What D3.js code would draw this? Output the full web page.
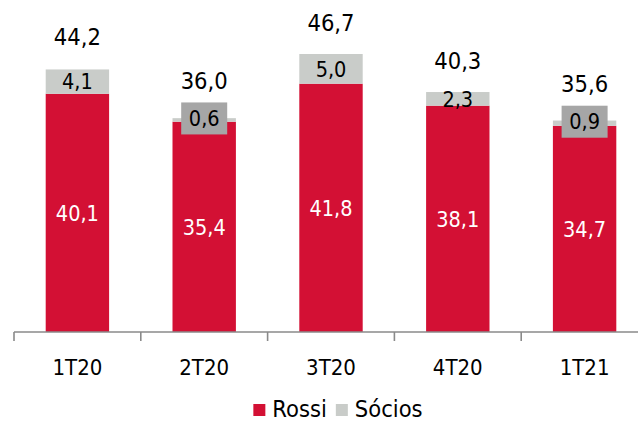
<!DOCTYPE html>
<html><head><meta charset="utf-8">
<script src="https://cdn.jsdelivr.net/npm/d3@7"></script>
<style>
html,body{margin:0;padding:0;background:#fff;}
text{font-family:Tahoma,"DejaVu Sans Condensed","DejaVu Sans",sans-serif;}
</style></head>
<body>
<svg id="chart" width="638" height="422"></svg>
<script>
const categories = ["1T20","2T20","3T20","4T20","1T21"];
const rossi = [40.1, 35.4, 41.8, 38.1, 34.7];
const socios = [4.1, 0.6, 5.0, 2.3, 0.9];
const totals = [44.2, 36.0, 46.7, 40.3, 35.6];
const seriesNames = ["Rossi","Sócios"];
const colors = {Rossi:"#D31034", "Sócios":"#C9CCC9"};

const fmt = v => v.toFixed(1).replace(".", ",");
const svg = d3.select("#chart");
const x = d3.scaleBand().domain(categories).range([14, 648]).paddingInner(0.5).paddingOuter(0.25);
const y = d3.scaleLinear().domain([0, 50]).range([332, 35]);

const data = categories.map((c,i)=>({c, r:rossi[i], s:socios[i], t:totals[i]}));

// Rossi bars
svg.append("g").selectAll("rect").data(data).join("rect")
  .attr("x", d=>x(d.c)).attr("width", x.bandwidth())
  .attr("y", d=>y(d.r)).attr("height", d=>y(0)-y(d.r))
  .attr("fill", colors.Rossi);
// Sócios bars
svg.append("g").selectAll("rect").data(data).join("rect")
  .attr("x", d=>x(d.c)).attr("width", x.bandwidth())
  .attr("y", d=>y(d.r+d.s)).attr("height", d=>y(d.r)-y(d.r+d.s))
  .attr("fill", colors["Sócios"]);

// axis
const axisG = svg.append("g").attr("transform","translate(0,332)");
axisG.append("line").attr("x1",14).attr("x2",648).attr("y1",0).attr("y2",0)
  .attr("stroke","#8a8a8a").attr("stroke-width",1.6);
const step = x.step();
const bounds = d3.range(categories.length+1).map(i=>14+i*step);
axisG.selectAll("line.tick").data(bounds).join("line").attr("class","tick")
  .attr("x1",d=>d).attr("x2",d=>d).attr("y1",0).attr("y2",9)
  .attr("stroke","#8a8a8a").attr("stroke-width",1.6);
axisG.selectAll("text").data(categories).join("text")
  .attr("x", d=>x(d)+x.bandwidth()/2).attr("y", 43)
  .attr("text-anchor","middle").attr("font-size",22).attr("fill","#000")
  .text(d=>d);

// Rossi labels (white)
svg.append("g").selectAll("text").data(data).join("text")
  .attr("x", d=>x(d.c)+x.bandwidth()/2)
  .attr("y", d=>(y(0)+y(d.r))/2).attr("dy","0.36em")
  .attr("text-anchor","middle").attr("font-size",21.5).attr("fill","#fff")
  .text(d=>fmt(d.r));

// Sócios labels
const sl = svg.append("g").selectAll("g").data(data).join("g")
  .attr("transform", d=>`translate(${x(d.c)+x.bandwidth()/2},${(y(d.r)+y(d.r+d.s))/2 - (d.s<1?1.5:0)})`);
sl.filter(d=>d.s<1).append("rect")
  .attr("x",-23).attr("y",-16).attr("width",46).attr("height",32).attr("fill","#A6A6A6");
sl.append("text").attr("text-anchor","middle").attr("dy","0.36em")
  .attr("font-size",21.5).attr("fill","#000").text(d=>fmt(d.s));

// Total labels
svg.append("g").selectAll("text").data(data).join("text")
  .attr("x", d=>x(d.c)+x.bandwidth()/2)
  .attr("y", d=>y(d.t) - (d.s<1?29:24))
  .attr("text-anchor","middle").attr("font-size",23.5).attr("fill","#000")
  .text(d=>fmt(d.t));

// Legend
const lg = svg.append("g");
const items = lg.selectAll("g").data(seriesNames).join("g");
let lx = 0;
items.each(function(d){
  const g = d3.select(this).attr("transform",`translate(${lx},0)`);
  g.append("rect").attr("x",0).attr("y",404).attr("width",12).attr("height",12).attr("fill",colors[d]);
  const t = g.append("text").attr("x",19).attr("y",417).attr("font-size",23.5).attr("fill","#000").text(d);
  lx += 19 + t.node().getComputedTextLength() + 9;
});
const lw = lx - 9;
lg.attr("transform",`translate(${338 - lw/2},0)`);
</script>
</body></html>
